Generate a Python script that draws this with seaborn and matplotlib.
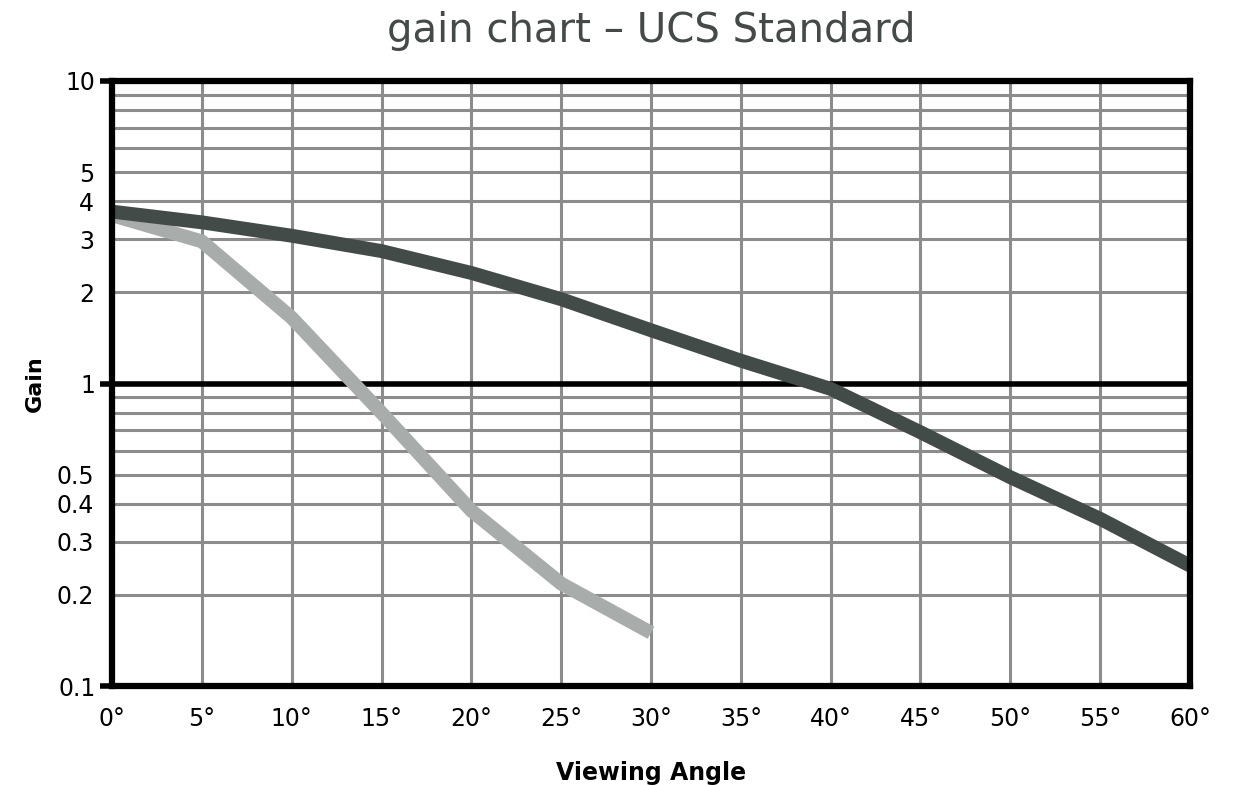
import numpy as np
import pandas as pd
import matplotlib
matplotlib.use("Agg")
import matplotlib.pyplot as plt
import seaborn as sns

# values
angles = [0, 5, 10, 15, 20, 25, 30, 35, 40, 45, 50, 55, 60]
gain_standard = [3.7, 3.41, 3.08, 2.74, 2.32, 1.9, 1.5, 1.19, 0.96, 0.69, 0.49, 0.357, 0.25]
angles_short = [0, 5, 10, 15, 20, 25, 30]
gain_narrow = [3.6, 2.95, 1.65, 0.8, 0.38, 0.218, 0.15]

y_labelled = [0.2, 0.3, 0.4, 0.5, 2, 3, 4, 5]
y_major = [0.1, 1, 10]
x_ticks = list(range(0, 65, 5))
x_labels = [f"{a}°" for a in x_ticks]

dark = "#434b48"
light = "#a8adab"
grid_col = "#8c8c8c"

df = pd.concat([
    pd.DataFrame({"angle": angles, "gain": gain_standard, "series": "standard"}),
    pd.DataFrame({"angle": angles_short, "gain": gain_narrow, "series": "narrow"}),
])

sns.set_theme(style="white")
plt.rcParams["font.family"] = ["DejaVu Sans"]
plt.rcParams["text.color"] = "black"
plt.rcParams["xtick.color"] = "black"
plt.rcParams["ytick.color"] = "black"
plt.rcParams["axes.labelcolor"] = "black"

fig = plt.figure(figsize=(12.38, 7.85), dpi=100)
ax = fig.add_axes([112 / 1238, 1 - 686 / 785, (1190 - 112) / 1238, (686 - 81) / 785])

ax.set_yscale("log")
ax.set_xlim(0, 60)
ax.set_ylim(0.1, 10)

# log grid lines (2..9 per decade)
for e in (-1, 0):
    for k in range(2, 10):
        ax.axhline(k * 10 ** e, color=grid_col, lw=2.2, zorder=1)
ax.set_xticks(x_ticks)
ax.set_xticklabels(x_labels)
ax.grid(axis="x", color=grid_col, lw=2.2, zorder=1)
ax.grid(axis="y", visible=False, which="both")
ax.axhline(1, color="black", lw=4, zorder=2)

sns.lineplot(data=df, x="angle", y="gain", hue="series",
             palette={"standard": dark, "narrow": light},
             hue_order=["narrow", "standard"],
             lw=10, ax=ax, legend=False, zorder=3,
             solid_capstyle="butt", solid_joinstyle="round")

ax.set_yticks(y_major)
ax.set_yticklabels(["0.1", "1", "10"])
ax.set_yticks(y_labelled, minor=True)
ax.set_yticklabels([str(v) for v in y_labelled], minor=True)
ax.set_xticks([0, 60], minor=True)

ax.tick_params(axis="y", which="major", length=9, width=4, color="black",
               labelsize=17, pad=3, left=True)
ax.tick_params(axis="y", which="minor", length=0, labelsize=17, pad=13, left=True)
ax.tick_params(axis="x", which="major", length=0, labelsize=17, pad=15)
ax.tick_params(axis="x", which="minor", length=8, width=4, color="black", bottom=True)

for s in ax.spines.values():
    s.set_color("black")
    s.set_linewidth(4.5)
    s.set_zorder(4)

ax.set_xlabel("Viewing Angle", fontsize=17, fontweight="bold", labelpad=22)
ax.set_ylabel("Gain", fontsize=16, fontweight="bold", labelpad=8)
ax.set_title("gain chart – UCS Standard", fontsize=29, color="#444a47", pad=28)

fig.savefig("out.png", dpi=100)
